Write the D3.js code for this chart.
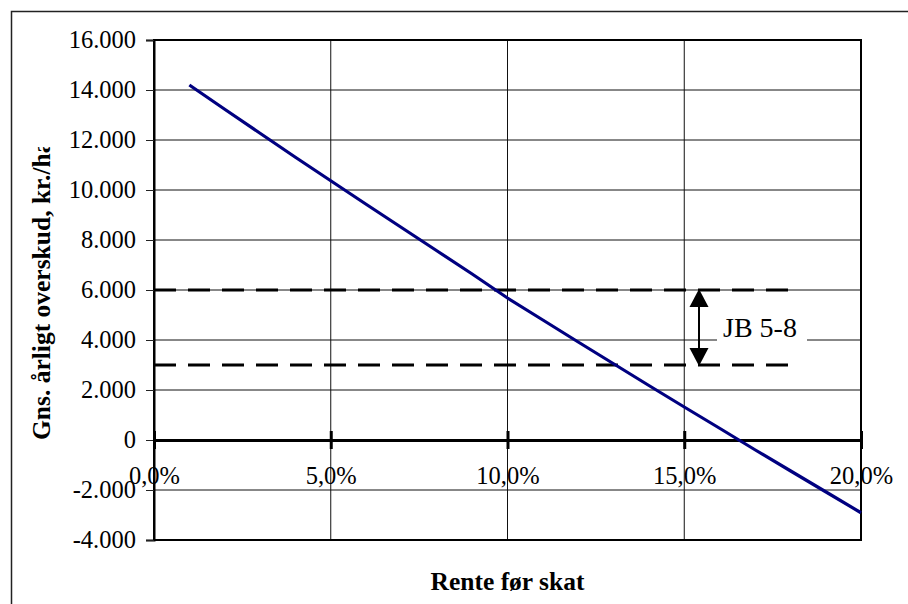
<!DOCTYPE html>
<html lang="da">
  <head>
    <meta charset="utf-8">
    <title>Gns. årligt overskud</title>
    <script type="text/javascript" src="https://cdn.jsdelivr.net/npm/d3@7/dist/d3.min.js"></script>
    <style>
      body { margin: 0; background: #fff; }
      svg { display: block; }
      text { font-family: "Liberation Serif", "Times New Roman", serif; fill: #000; }
    </style>
  </head>
  <body>
    <script type="text/javascript">

    //Data
    var rates = [0.01, 0.02, 0.03, 0.04, 0.05, 0.06, 0.07, 0.08, 0.09, 0.10,
                 0.11, 0.12, 0.13, 0.14, 0.15, 0.16, 0.17, 0.18, 0.19, 0.20];
    var overskud = [14200, 13230, 12270, 11310, 10370, 9430, 8500, 7570, 6640, 5680,
                    4800, 3920, 3050, 2180, 1320, 470, -390, -1230, -2070, -2910];
    var jbRange = [0, 0.18];             //x extent of the dashed JB lines
    var jbLevels = [6000, 3000];         //upper and lower JB level
    var jbLabel = "JB 5-8";
    var yTicks = [-4000, -2000, 0, 2000, 4000, 6000, 8000, 10000, 12000, 14000, 16000];
    var xTicks = [0, 0.05, 0.10, 0.15, 0.20];
    var yTitle = "Gns. årligt overskud, kr./ha";
    var xTitle = "Rente før skat";

    //Size
    var w = 908;
    var h = 604;

    //Danish number format
    var da = d3.formatLocale({ decimal: ",", thousands: ".", grouping: [3], currency: ["", " kr."], minus: "-" });
    var fmtY = da.format(",.0f");
    var fmtX = da.format(".1%");

    //Scales
    var xScale = d3.scaleLinear().domain([0, 0.20]).range([154, 861]);
    var yScale = d3.scaleLinear().domain([-4000, 16000]).range([540, 40]);

    var svg = d3.select("body").append("svg")
        .attr("width", w)
        .attr("height", h);

    //Outer frame (left and top only visible)
    svg.append("path")
       .attr("d", "M11.5," + h + "V11.5H" + w)
       .attr("fill", "none")
       .attr("stroke", "#222")
       .attr("stroke-width", 1.5);

    //Grid lines
    svg.append("g").selectAll("line")
       .data(yTicks)
       .enter().append("line")
       .attr("x1", xScale(0)).attr("x2", xScale(0.20))
       .attr("y1", function(d) { return yScale(d); })
       .attr("y2", function(d) { return yScale(d); })
       .attr("stroke", "#111").attr("stroke-width", 1);

    svg.append("g").selectAll("line")
       .data(xTicks)
       .enter().append("line")
       .attr("x1", function(d) { return xScale(d); })
       .attr("x2", function(d) { return xScale(d); })
       .attr("y1", yScale(16000)).attr("y2", yScale(-4000))
       .attr("stroke", "#111").attr("stroke-width", 1);

    //Plot border
    svg.append("rect")
       .attr("x", xScale(0)).attr("y", yScale(16000))
       .attr("width", xScale(0.20) - xScale(0))
       .attr("height", yScale(-4000) - yScale(16000))
       .attr("fill", "none").attr("stroke", "#000").attr("stroke-width", 2);

    //Y axis
    var yAxis = d3.axisLeft(yScale)
        .tickValues(yTicks)
        .tickFormat(fmtY)
        .tickSize(8)
        .tickPadding(10);
    var gy = svg.append("g")
        .attr("transform", "translate(" + xScale(0) + ",0)")
        .call(yAxis);
    gy.select(".domain").attr("stroke-width", 2);
    gy.selectAll(".tick line").attr("stroke", "#222");
    gy.selectAll("text")
      .attr("font-family", "Liberation Serif")
      .attr("font-size", 24.5)
      .attr("fill", "#000");

    //Zero line with ticks and percent labels
    var xAxis = d3.axisBottom(xScale)
        .tickValues(xTicks)
        .tickFormat(fmtX)
        .tickSizeInner(0)
        .tickSizeOuter(0)
        .tickPadding(27);
    var gx = svg.append("g")
        .attr("transform", "translate(0," + yScale(0) + ")")
        .call(xAxis);
    gx.select(".domain").attr("stroke", "#000").attr("stroke-width", 3);
    gx.selectAll(".tick").append("line")
      .attr("y1", -9).attr("y2", 9)
      .attr("stroke", "#000").attr("stroke-width", 3);
    gx.selectAll("text")
      .attr("font-family", "Liberation Serif")
      .attr("font-size", 24.5)
      .attr("fill", "#000");

    //Dashed JB lines
    svg.append("g").selectAll("line")
       .data(jbLevels)
       .enter().append("line")
       .attr("x1", xScale(jbRange[0])).attr("x2", xScale(jbRange[1]))
       .attr("y1", function(d) { return yScale(d); })
       .attr("y2", function(d) { return yScale(d); })
       .attr("stroke", "#000").attr("stroke-width", 3)
       .attr("stroke-dasharray", "22,12");

    //Data line
    var line = d3.line()
        .x(function(d, i) { return xScale(rates[i]); })
        .y(function(d) { return yScale(d); });
    svg.append("path")
       .datum(overskud)
       .attr("d", line)
       .attr("fill", "none")
       .attr("stroke", "#000080")
       .attr("stroke-width", 3.2);

    //Double arrow between the JB levels
    var ax = 699;
    var yTop = yScale(jbLevels[0]);
    var yBot = yScale(jbLevels[1]);
    svg.append("line")
       .attr("x1", ax).attr("x2", ax)
       .attr("y1", yTop + 10).attr("y2", yBot - 10)
       .attr("stroke", "#000").attr("stroke-width", 2);
    svg.append("path")
       .attr("d", "M" + ax + "," + (yTop - 1) + "L" + (ax - 9.5) + "," + (yTop + 17) + "L" + (ax + 9.5) + "," + (yTop + 17) + "Z")
       .attr("fill", "#000");
    svg.append("path")
       .attr("d", "M" + ax + "," + (yBot + 1) + "L" + (ax - 9.5) + "," + (yBot - 17) + "L" + (ax + 9.5) + "," + (yBot - 17) + "Z")
       .attr("fill", "#000");

    //JB label on white box
    svg.append("rect")
       .attr("x", 717).attr("y", 312)
       .attr("width", 90).attr("height", 32)
       .attr("fill", "#fff");
    svg.append("text")
       .attr("x", 723).attr("y", 337)
       .attr("font-size", 28)
       .text(jbLabel);

    //Axis titles
    svg.append("clipPath").attr("id", "ytclip")
       .append("rect").attr("x", 0).attr("y", 147).attr("width", 150).attr("height", 400);
    svg.append("g").attr("clip-path", "url(#ytclip)")
       .append("text")
       .attr("transform", "translate(50,440) rotate(-90)")
       .attr("font-size", 25.5)
       .attr("font-weight", "bold")
       .text(yTitle);

    svg.append("text")
       .attr("x", (xScale(0) + xScale(0.20)) / 2)
       .attr("y", 590)
       .attr("text-anchor", "middle")
       .attr("font-size", 25.5)
       .attr("font-weight", "bold")
       .text(xTitle);

    </script>
  </body>
</html>
